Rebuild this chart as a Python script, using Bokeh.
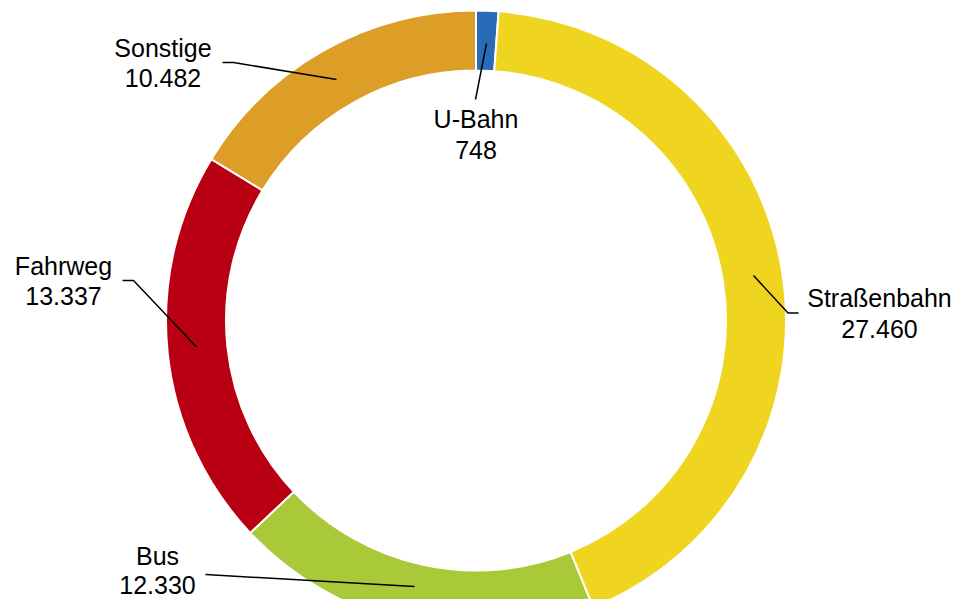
import numpy as np
from bokeh.plotting import figure
from bokeh.models import Range1d, ColumnDataSource
from bokeh.core.properties import value
from bokeh.embed import file_html
from bokeh.resources import INLINE

# ---- data ----
categories = ["U-Bahn", "Straßenbahn", "Bus", "Fahrweg", "Sonstige"]
values = [748, 27460, 12330, 13337, 10482]
value_labels = ["748", "27.460", "12.330", "13.337", "10.482"]
colors = ["#2A6BB7", "#EFD520", "#A9C939", "#B90013", "#DC9E27"]

# ---- layout (picture pixel coordinates; data y = H - pixel y) ----
W, H = 957, 599
cx, cy_px = 475.5, 320
r_out, r_in = 310, 250

def Y(py):
    return H - py

label_pos = {  # (center x, cap-middle of name, cap-middle of value)
    "U-Bahn": (475.5, 118, 149),
    "Straßenbahn": (879, 297.5, 328.5),
    "Bus": (157, 555, 584),
    "Fahrweg": (63, 265, 295),
    "Sonstige": (162.5, 47, 77.5),
}
leaders = {
    "U-Bahn": [(486, 43), (475, 99)],
    "Straßenbahn": [(753, 275), (787.5, 312.5), (798, 312.5)],
    "Bus": [(205, 574), (414, 586)],
    "Fahrweg": [(122, 280), (133, 280), (196, 346.5)],
    "Sonstige": [(222, 62), (233, 62), (336, 79)],
}

total = float(sum(values))
frac = np.array(values, dtype=float) / total
cum = np.concatenate([[0.0], np.cumsum(frac)])
start = np.pi / 2 - cum[:-1] * 2 * np.pi
end = np.pi / 2 - cum[1:] * 2 * np.pi

src = ColumnDataSource(dict(start=start, end=end, color=colors, cat=categories))

p = figure(width=W, height=H, output_backend="svg", toolbar_location=None,
           x_range=Range1d(0, W), y_range=Range1d(0, H),
           x_axis_location=None, y_axis_location=None,
           min_border=0, min_border_left=0, min_border_right=0,
           min_border_top=0, min_border_bottom=0)
p.outline_line_color = None
p.xgrid.visible = False
p.ygrid.visible = False
p.background_fill_color = "white"
p.border_fill_color = "white"

p.annular_wedge(x=cx, y=Y(cy_px), inner_radius=r_in, outer_radius=r_out,
                start_angle="start", end_angle="end", direction="clock",
                fill_color="color", line_color="white", line_width=2,
                source=src)

for cat in categories:
    pts = leaders[cat]
    p.line([q[0] for q in pts], [Y(q[1]) for q in pts], line_color="black", line_width=1.5)

names_x, names_y, vals_y = [], [], []
for cat in categories:
    x, m1, m2 = label_pos[cat]
    names_x.append(x)
    names_y.append(Y(m1))
    vals_y.append(Y(m2))

p.text(x=names_x, y=names_y, text=categories, text_align="center",
       text_baseline="middle", text_font=value("Liberation Sans"),
       text_font_size="25px", text_color="black")
p.text(x=names_x, y=vals_y, text=value_labels, text_align="center",
       text_baseline="middle", text_font=value("Liberation Sans"),
       text_font_size="25px", text_color="black")

open("out.html", "w").write(file_html(p, INLINE))
